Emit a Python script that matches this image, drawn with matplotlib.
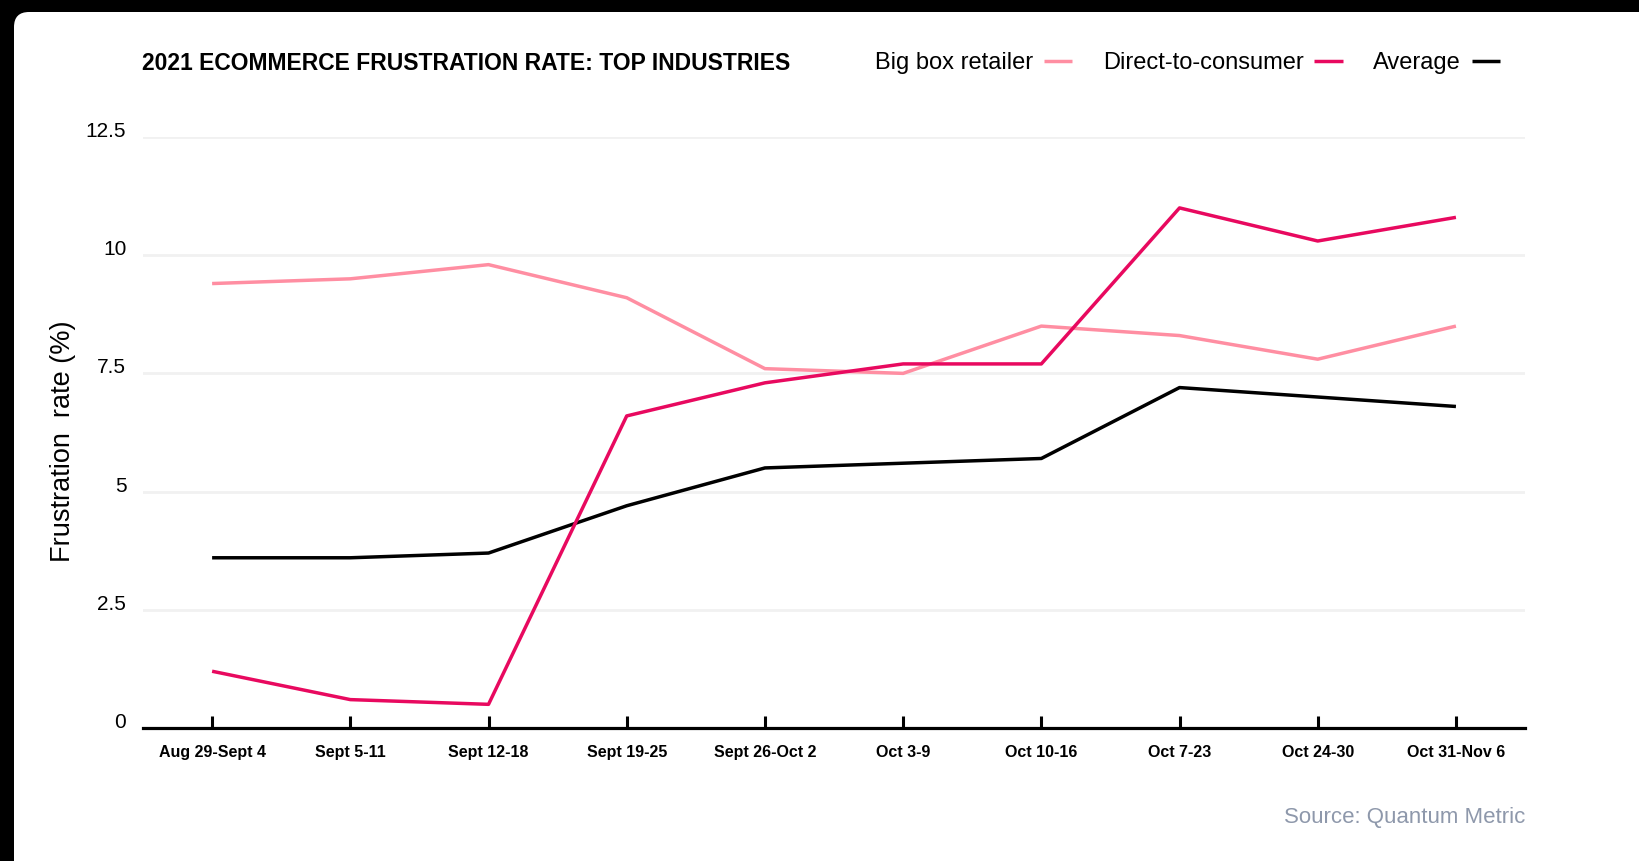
import matplotlib.pyplot as plt
from matplotlib.patches import FancyBboxPatch

plt.rcParams['font.family'] = ['Liberation Sans', 'DejaVu Sans']

weeks = ['Aug 29-Sept 4', 'Sept 5-11', 'Sept 12-18', 'Sept 19-25', 'Sept 26-Oct 2',
         'Oct 3-9', 'Oct 10-16', 'Oct 7-23', 'Oct 24-30', 'Oct 31-Nov 6']
big_box = [9.4, 9.5, 9.8, 9.1, 7.6, 7.5, 8.5, 8.3, 7.8, 8.5]
direct = [1.2, 0.6, 0.5, 6.6, 7.3, 7.7, 7.7, 11.0, 10.3, 10.8]
average = [3.6, 3.6, 3.7, 4.7, 5.5, 5.6, 5.7, 7.2, 7.0, 6.8]
yticks = [0, 2.5, 5, 7.5, 10, 12.5]
ytick_labels = ['0', '2.5', '5', '7.5', '10', '12.5']

fig = plt.figure(figsize=(16.4, 8.61), dpi=100)
fig.patch.set_facecolor('black')

# white card with rounded corners, behind everything
card = FancyBboxPatch((0.14, -0.5), 20, 8.61 - 0.12 + 0.5,
                      boxstyle='round,pad=0,rounding_size=0.15',
                      transform=fig.dpi_scale_trans, facecolor='white',
                      edgecolor='none', zorder=-10)
fig.patches.append(card)

ax = fig.add_axes([0.0872, 0.1545, 0.8427, 0.6864])
ax.set_facecolor('none')

x = range(len(weeks))
ax.plot(x, big_box, color='#ff8ea2', lw=2.5, label='Big box retailer', solid_capstyle='butt', zorder=3)
ax.plot(x, direct, color='#e8095f', lw=2.5, label='Direct-to-consumer', solid_capstyle='butt', zorder=4)
ax.plot(x, average, color='black', lw=2.5, label='Average', solid_capstyle='butt', zorder=3)

ax.set_xlim(-0.5, 9.5)
ax.set_ylim(0, 12.5)
ax.set_xticks(list(x))
ax.set_xticklabels(weeks, fontsize=11.5, fontweight='bold')
ax.set_yticks(yticks)
ax.set_yticklabels(ytick_labels, fontsize=15)
for lab in ax.get_yticklabels():
    lab.set_verticalalignment('baseline')

for v in yticks[1:]:
    ax.axhline(v, color='#f1f1f1', lw=2, zorder=1)

for s in ['top', 'right', 'left']:
    ax.spines[s].set_visible(False)
ax.spines['bottom'].set_linewidth(2.3)
ax.tick_params(axis='x', direction='in', length=9, width=2.2, pad=12)
ax.tick_params(axis='y', length=0, pad=12)

ax.set_ylabel('Frustration  rate (%)', fontsize=19.5, va='center')
ax.yaxis.set_label_coords(-0.058, 0.485)

fig.text(142 / 1640, 1 - 63 / 861, '2021 ECOMMERCE FRUSTRATION RATE: TOP INDUSTRIES',
         fontsize=16.5, fontweight='bold', va='center', ha='left')

fig.legend(loc='center right', bbox_to_anchor=(1500 / 1640, 1 - 63 / 861),
           ncol=3, frameon=False, markerfirst=False, fontsize=17,
           handlelength=1.2, handletextpad=0.45, columnspacing=1.3,
           borderpad=0, borderaxespad=0)

fig.text(1525 / 1640, 1 - 818 / 861, 'Source: Quantum Metric', color='#8e98ab',
         fontsize=16, ha='right', va='center')

fig.savefig('out.png', dpi=100, facecolor=fig.get_facecolor())
